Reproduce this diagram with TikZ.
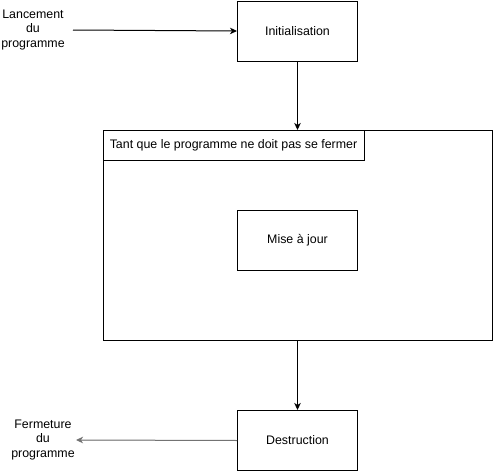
\documentclass[tikz,border=0pt]{standalone}
\usepackage{fontspec}
\setmainfont{Liberation Sans}
\usetikzlibrary{arrows.meta}
\begin{document}
\begin{tikzpicture}[x=1pt,y=-1pt,
  font=\fontsize{12.4}{14.5}\selectfont,
  box/.style={draw,line width=1pt,minimum width=120pt,minimum height=60pt,anchor=north west,inner sep=0pt},
  lbl/.style={align=center,inner sep=0pt},
  arr/.style={line width=1pt,-{Stealth[length=7pt,width=6.5pt,inset=2pt]}}]
\useasboundingbox (0,0) rectangle (493,471);
\node[box] (init) at (237,0.5) {Initialisation};
\node[lbl] (start) at (33,30) {Lancement\\du\\programme};
\coordinate (startend) at (73,30);
\node[draw,line width=1pt,anchor=north west,minimum width=389pt,minimum height=210pt,inner sep=0pt] (loop) at (102.5,130) {};
\node[draw,line width=1pt,anchor=north west,minimum width=261pt,minimum height=30pt,inner sep=0pt] (cond) at (102.5,130) {Tant que le programme ne doit pas se fermer};
\node[box] (maj) at (237,210) {Mise à jour};
\node[box] (dest) at (237,410) {Destruction};
\node[lbl] (end) at (43,440) {Fermeture\\du\\programme};
\coordinate (endend) at (76,440);
\draw[arr] (startend) -- (init.west);
\draw[arr] (init.south) -- (init.south |- loop.north);
\draw[arr] (init.south |- loop.south) -- (dest.north);
\draw[arr,draw=gray!90!black,fill=black] (dest.west) -- (endend);
\end{tikzpicture}
\end{document}
